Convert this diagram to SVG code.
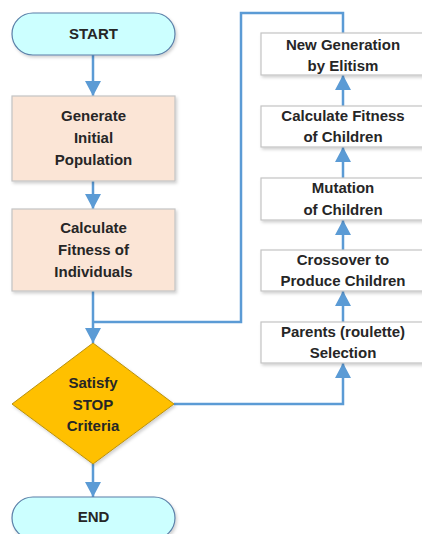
<svg xmlns="http://www.w3.org/2000/svg" width="422" height="534" viewBox="0 0 422 534">
<defs>
<marker id="arr" viewBox="0 0 15 16" refX="15" refY="8" markerWidth="15" markerHeight="16" markerUnits="userSpaceOnUse" orient="auto">
<path d="M0,0 L15,8 L0,16 z" fill="#5B9BD5"/>
</marker>
<filter id="sh" x="-10%" y="-10%" width="130%" height="140%">
<feDropShadow dx="1.5" dy="2" stdDeviation="1.5" flood-color="#000" flood-opacity="0.18"/>
</filter>
</defs>
<style>
.term{fill:#CCFFFF;stroke:#5A7FA8;stroke-width:1.2;filter:url(#sh)}
.proc{fill:#FBE5D6;stroke:#C4C4C4;stroke-width:1.2;filter:url(#sh)}
.side{fill:#FFFFFF;stroke:#C4C4C4;stroke-width:1.2;filter:url(#sh)}
.dec{fill:#FFC000;stroke:#B8900F;stroke-width:1;filter:url(#sh)}
.lbl{font-family:"Liberation Sans",Arial,sans-serif;font-weight:bold;font-size:15px;fill:#262626;text-anchor:middle}
.con{fill:none;stroke:#5B9BD5;stroke-width:2.5}
</style>
<rect width="422" height="534" fill="#FFFFFF"/>
<g id="connectors">
<path class="con" d="M93,55 V96" marker-end="url(#arr)"/>
<path class="con" d="M93,181 V209" marker-end="url(#arr)"/>
<path class="con" d="M93,291 V343" marker-end="url(#arr)"/>
<path class="con" d="M93,322 H241 V13 H343 V33"/>
<path class="con" d="M174,404 H343 V363" marker-end="url(#arr)"/>
<path class="con" d="M343,322 V291" marker-end="url(#arr)"/>
<path class="con" d="M343,250 V220" marker-end="url(#arr)"/>
<path class="con" d="M343,178 V147" marker-end="url(#arr)"/>
<path class="con" d="M343,106 V75" marker-end="url(#arr)"/>
<path class="con" d="M93,464 V497" marker-end="url(#arr)"/>
</g>
<g id="start">
<rect class="term" x="12" y="13" width="163" height="42" rx="21"/>
<text class="lbl" x="93.5" y="39">START</text>
</g>
<g id="generate">
<rect class="proc" x="12" y="96" width="163" height="85"/>
<text class="lbl" x="93.5" y="121">Generate</text>
<text class="lbl" x="93.5" y="143">Initial</text>
<text class="lbl" x="93.5" y="165">Population</text>
</g>
<g id="fitness">
<rect class="proc" x="12" y="209" width="163" height="82"/>
<text class="lbl" x="93.5" y="233">Calculate</text>
<text class="lbl" x="93.5" y="255">Fitness of</text>
<text class="lbl" x="93.5" y="277">Individuals</text>
</g>
<g id="decision">
<polygon class="dec" points="93,343 174,404 93,464 12,404"/>
<text class="lbl" x="93" y="388">Satisfy</text>
<text class="lbl" x="93" y="410">STOP</text>
<text class="lbl" x="93" y="431">Criteria</text>
</g>
<g id="end">
<rect class="term" x="12" y="497" width="163" height="42" rx="21"/>
<text class="lbl" x="93.5" y="522">END</text>
</g>
<g id="newgen">
<rect class="side" x="261" y="33" width="170" height="42"/>
<text class="lbl" x="343" y="50">New Generation</text>
<text class="lbl" x="343" y="71">by Elitism</text>
</g>
<g id="fitchildren">
<rect class="side" x="261" y="106" width="170" height="41"/>
<text class="lbl" x="343" y="121">Calculate Fitness</text>
<text class="lbl" x="343" y="142">of Children</text>
</g>
<g id="mutation">
<rect class="side" x="261" y="178" width="170" height="42"/>
<text class="lbl" x="343" y="193">Mutation</text>
<text class="lbl" x="343" y="215">of Children</text>
</g>
<g id="crossover">
<rect class="side" x="261" y="250" width="170" height="41"/>
<text class="lbl" x="343" y="265">Crossover to</text>
<text class="lbl" x="343" y="286">Produce Children</text>
</g>
<g id="parents">
<rect class="side" x="261" y="322" width="170" height="41"/>
<text class="lbl" x="343" y="337">Parents (roulette)</text>
<text class="lbl" x="343" y="358">Selection</text>
</g>
</svg>
